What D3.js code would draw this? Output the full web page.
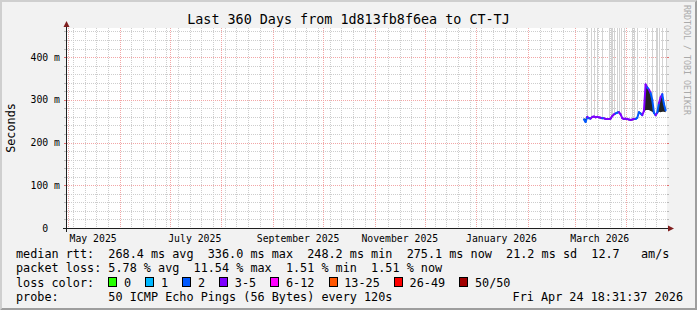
<!DOCTYPE html>
<html>
<head>
<meta charset="utf-8">
<script src="https://cdn.jsdelivr.net/npm/d3@7"></script>
<style>
	body { margin: 0; background: #fff; }
	svg text { font-family: "DejaVu Sans Mono", monospace; white-space: pre; }
</style>
</head>
<body>
<svg id="chart" width="697" height="310"></svg>
<script>
// time window of the graph (360 days, rrd aligned)
var windowEnd = "2026-04-25T08:00:00Z";
var windowDays = 360;

var days = ["2026-03-06","2026-03-07","2026-03-08","2026-03-09","2026-03-10","2026-03-11","2026-03-12","2026-03-13","2026-03-14","2026-03-15",
	"2026-03-16","2026-03-17","2026-03-18","2026-03-19","2026-03-20","2026-03-21","2026-03-22","2026-03-23","2026-03-24","2026-03-25",
	"2026-03-26","2026-03-27","2026-03-28","2026-03-29","2026-03-30","2026-03-31","2026-04-01","2026-04-02","2026-04-03","2026-04-04",
	"2026-04-05","2026-04-06","2026-04-07","2026-04-08","2026-04-09","2026-04-10","2026-04-11","2026-04-12","2026-04-13","2026-04-14",
	"2026-04-15","2026-04-16","2026-04-17","2026-04-18","2026-04-19","2026-04-20","2026-04-21","2026-04-22","2026-04-23","2026-04-24"];

// median rtt in ms
var medianRtt = [254,248,260,257,256,260,261,259,260,259,
	258,257,257,255,255,255,256,262,266,268,
	270,271,266,257,255,256,255,254,253,254,
	255,255,258,271,268,264,274,336,329,324,
	316,300,270,264,270,292,306,313,290,275];

// lost pings out of 50
var lossPings = [2,2,2,3,2,3,3,4,3,3,
	4,3,2,3,4,4,3,4,3,3,
	2,2,3,3,4,3,4,4,3,4,
	3,3,2,2,2,2,3,4,3,2,
	3,2,2,2,3,2,3,4,2,2];

// dark smoke band (ms)
var smokeLow = [251,245,257,255,254,258,259,257,258,257,
	256,255,255,253,253,253,254,259,264,266,
	268,269,263,255,253,254,253,252,251,252,
	253,253,256,268,266,262,271,276,276,276,
	274,272,267,262,267,272,271,272,272,271];
var smokeHigh = [257,255,261,259,258,261,262,261,261,260,
	259,258,258,256,256,257,258,264,267,269,
	272,273,268,259,257,257,256,255,254,255,
	256,257,261,273,270,266,275,336,332,326,
	318,302,272,266,273,294,308,315,298,278];

// days where single pings went beyond the top of the graph
var outlierDays = ["2026-03-08","2026-03-10","2026-03-12","2026-03-14","2026-03-17","2026-03-21","2026-03-22","2026-03-23",
	"2026-03-24","2026-03-26","2026-03-27","2026-03-28","2026-03-30","2026-04-04","2026-04-05","2026-04-07",
	"2026-04-13","2026-04-16","2026-04-18","2026-04-19","2026-04-20","2026-04-22","2026-04-24"];

var yMax = 468;
var yTicks = [0, 100, 200, 300, 400];
var yTickLabels = ["0  ", "100 m", "200 m", "300 m", "400 m"];

var lossLabels = ["0", "1", "2", "3-5", "6-12", "13-25", "26-49", "50/50"];
var lossUpper = [0, 1, 2, 5, 12, 25, 49, 50];
var lossColors = ["#26ff00", "#00b8ff", "#0059ff", "#7e00ff", "#ff00ff", "#ff5500", "#ff0000", "#a10000"];

var rttStats = [268.4, 336.0, 248.2, 275.1, 21.2];
var rttStatNames = ["avg", "max", "min", "now", "sd"];
var amPerSec = 12.7;
var lossStats = [5.78, 11.54, 1.51, 1.51];
var lossStatNames = ["avg", "max", "min", "now"];

var titleText = "Last 360 Days from 1d813fb8f6ea to CT-TJ";
var probeText = "50 ICMP Echo Pings (56 Bytes) every 120s";
var stampText = "Fri Apr 24 18:31:37 2026";

var W = 697, H = 310;
var X0 = 67, X1 = 667, Y0 = 228, Y1 = 28;
var legendFont = 11.8, cw = legendFont * 0.602;

var svg = d3.select("#chart");

var tEnd = new Date(windowEnd);
var tStart = d3.utcDay.offset(tEnd, -windowDays);
var x = d3.scaleUtc().domain([tStart, tEnd]).range([X0, X1]);
var y = d3.scaleLinear().domain([0, yMax]).range([Y0, Y1]);

function day(s){ return new Date(s + "T12:00:00Z"); }
function lossClass(n){
	for (var i = 0; i < lossUpper.length; i++){
		if (n <= lossUpper[i]) return i;
	}
	return lossUpper.length - 1;
}

// background + 3d frame
svg.append("rect").attr("width", W).attr("height", H).attr("fill", "#f2f2f2");
svg.append("polygon").attr("points", "0,0 697,0 695,2 2,2 2,308 0,310").attr("fill", "#cfcfcf");
svg.append("polygon").attr("points", "697,0 697,310 0,310 2,308 695,308 695,2").attr("fill", "#9e9e9e");
svg.append("rect").attr("x", X0).attr("y", Y1).attr("width", X1 - X0).attr("height", Y0 - Y1).attr("fill", "#ffffff");

// grid
var grid = svg.append("g").attr("shape-rendering", "crispEdges");
var hMinor = d3.range(0, yMax, 20).filter(function(v){ return v % 100 != 0; });
hMinor.forEach(function(v){
	var py = Math.round(y(v)) + 0.5;
	grid.append("line").attr("x1", X0).attr("x2", X1).attr("y1", py).attr("y2", py)
		.attr("stroke", "#cdcdcd").attr("stroke-dasharray", "1,1");
	grid.append("line").attr("x1", X0 - 3).attr("x2", X0 - 1).attr("y1", py).attr("y2", py).attr("stroke", "#bbbbbb");
	grid.append("line").attr("x1", X1).attr("x2", X1 + 2).attr("y1", py).attr("y2", py).attr("stroke", "#bbbbbb");
});
var months = d3.utcMonth.range(tStart, tEnd);
var weeks = d3.utcSunday.range(tStart, tEnd).filter(function(d){
	return !months.some(function(m){ return Math.abs(x(m) - x(d)) < 2; });
});
weeks.forEach(function(d){
	var px = Math.round(x(d)) + 0.5;
	grid.append("line").attr("x1", px).attr("x2", px).attr("y1", Y1).attr("y2", Y0)
		.attr("stroke", "#cdcdcd").attr("stroke-dasharray", "1,1");
});
yTicks.forEach(function(v){
	if (v == 0) return;
	var py = Math.round(y(v)) + 0.5;
	grid.append("line").attr("x1", X0).attr("x2", X1).attr("y1", py).attr("y2", py)
		.attr("stroke", "#f2a6a6").attr("stroke-dasharray", "1,1");
	grid.append("line").attr("x1", X0 - 3).attr("x2", X0 - 1).attr("y1", py).attr("y2", py).attr("stroke", "#e07070");
	grid.append("line").attr("x1", X1).attr("x2", X1 + 2).attr("y1", py).attr("y2", py).attr("stroke", "#e07070");
});
months.forEach(function(d){
	var px = Math.round(x(d)) + 0.5;
	grid.append("line").attr("x1", px).attr("x2", px).attr("y1", Y1).attr("y2", Y0)
		.attr("stroke", "#f2a6a6").attr("stroke-dasharray", "1,1");
});

// data
var pts = days.map(function(s, i){
	return { date: day(s), med: medianRtt[i], loss: lossPings[i], lo: smokeLow[i], hi: smokeHigh[i] };
});

var plot = svg.append("g");
outlierDays.forEach(function(s){
	var i = days.indexOf(s);
	var px = Math.round(x(day(s))) + 0.5;
	plot.append("line").attr("x1", px).attr("x2", px)
		.attr("y1", y(yMax)).attr("y2", y(medianRtt[i]))
		.attr("stroke", "#d2d2d2").attr("shape-rendering", "crispEdges");
});

plot.append("path")
	.datum(pts)
	.attr("d", d3.area()
		.x(function(d){ return x(d.date); })
		.y0(function(d){ return y(d.lo); })
		.y1(function(d){ return y(d.hi); }))
	.attr("fill", "#222222");

for (var i = 1; i < pts.length; i++){
	plot.append("line")
		.attr("x1", x(pts[i - 1].date)).attr("y1", y(pts[i - 1].med))
		.attr("x2", x(pts[i].date)).attr("y2", y(pts[i].med))
		.attr("stroke", lossColors[lossClass(pts[i].loss)])
		.attr("stroke-width", 2)
		.attr("stroke-linecap", "round");
}

// axes
var axis = svg.append("g").attr("shape-rendering", "crispEdges");
axis.append("line").attr("x1", X0 - 4).attr("x2", X1 + 4).attr("y1", Y0 + 0.5).attr("y2", Y0 + 0.5).attr("stroke", "#1f1f1f");
axis.append("line").attr("x1", X0 - 0.5).attr("x2", X0 - 0.5).attr("y1", Y0 + 4).attr("y2", Y1 - 2).attr("stroke", "#1f1f1f");
svg.append("polygon").attr("points", [[X1 + 1, Y0 - 2.5], [X1 + 7, Y0 + 0.5], [X1 + 1, Y0 + 3.5]].join(" ")).attr("fill", "#801f1f");
svg.append("polygon").attr("points", [[X0 - 3.5, Y1 - 1], [X0 - 0.5, Y1 - 7], [X0 + 2.5, Y1 - 1]].join(" ")).attr("fill", "#801f1f");

// axis labels
yTicks.forEach(function(v, i){
	svg.append("text").attr("x", 60).attr("y", y(v) + 3.6)
		.attr("text-anchor", "end").attr("font-size", "9.8px").attr("fill", "#000")
		.text(yTickLabels[i]);
});
d3.utcMonth.every(2).range(tStart, tEnd).forEach(function(m){
	svg.append("text").attr("x", x(d3.utcDay.offset(m, 15))).attr("y", 241.5)
		.attr("text-anchor", "middle").attr("font-size", "9.8px").attr("fill", "#000")
		.text(d3.utcFormat("%B %Y")(m));
});

svg.append("text").attr("x", W / 2).attr("y", 24).attr("text-anchor", "middle")
	.attr("font-size", "13.4px").attr("fill", "#000").text(titleText);
svg.append("text").attr("transform", "translate(15," + ((Y0 + Y1) / 2) + ") rotate(-90)")
	.attr("text-anchor", "middle").attr("font-size", legendFont + "px").attr("fill", "#000").text("Seconds");
svg.append("text").attr("transform", "translate(684,5) rotate(90)")
	.attr("font-size", "8.3px").attr("fill", "#aaaaaa").text("RRDTOOL / TOBI OETIKER");

// legend
var lx = 16, lineY = [258.3, 272.4, 286.5, 300.6];
var rttLine = "median rtt:  " + rttStats.slice(0, 4).map(function(v, i){
	return v.toFixed(1) + " ms " + rttStatNames[i];
}).join("  ") + "  " + rttStats[4].toFixed(1) + " ms " + rttStatNames[4] + "  " + amPerSec.toFixed(1) + "   am/s";
var lossLine = "packet loss: " + lossStats.map(function(v, i){
	return v.toFixed(2) + " % " + lossStatNames[i];
}).join("  ");

function legendText(tx, ty, s, anchor){
	return svg.append("text").attr("x", tx).attr("y", ty)
		.attr("font-size", legendFont + "px").attr("fill", "#000")
		.attr("text-anchor", anchor || "start").text(s);
}
legendText(lx, lineY[0], rttLine);
legendText(lx, lineY[1], lossLine);
legendText(lx, lineY[2], "loss color:");
legendText(lx, lineY[3], "probe:       " + probeText);
legendText(683, lineY[3], stampText, "end");

var bx = lx + 13 * cw;
lossLabels.forEach(function(lab, i){
	svg.append("rect").attr("x", Math.round(bx) + 0.5).attr("y", 277.5).attr("width", 8).attr("height", 9)
		.attr("fill", lossColors[i]).attr("stroke", "#000").attr("shape-rendering", "crispEdges");
	legendText(bx + 15.7, lineY[2], lab);
	bx += (lab.length + 4.2) * cw;
});
</script>
</body>
</html>
